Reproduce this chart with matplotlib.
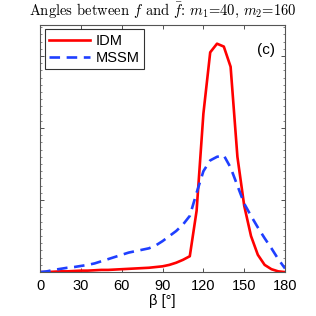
import numpy as np
import matplotlib
matplotlib.use("Agg")
import matplotlib.pyplot as plt
from matplotlib.ticker import MultipleLocator

# angle bins (degrees)
beta = list(range(0, 181, 5))

idm = [0.0, 0.0, 0.005, 0.01, 0.01, 0.015, 0.02, 0.02, 0.025, 0.03, 0.03, 0.035,
       0.04, 0.045, 0.05, 0.055, 0.06, 0.07, 0.08, 0.1, 0.13, 0.17, 0.22, 0.85,
       2.2, 3.05, 3.17, 3.13, 2.85, 1.6, 0.92, 0.5, 0.24, 0.1, 0.04, 0.01, 0.0]

mssm = [0.0, 0.01, 0.03, 0.045, 0.06, 0.07, 0.085, 0.1, 0.12, 0.15, 0.18, 0.21,
        0.24, 0.27, 0.29, 0.31, 0.33, 0.37, 0.43, 0.5, 0.57, 0.66, 0.78, 1.1,
        1.4, 1.55, 1.6, 1.62, 1.45, 1.2, 0.95, 0.78, 0.62, 0.47, 0.33, 0.18, 0.05]

xticks = [0, 30, 60, 90, 120, 150, 180]

plt.rcParams['font.family'] = ['Liberation Sans', 'DejaVu Sans']
plt.rcParams['mathtext.fontset'] = 'cm'

fig = plt.figure(figsize=(3.16, 3.16), dpi=100)
ax = fig.add_axes([0.127, 0.139, 0.775, 0.782])

ax.plot(beta, idm, color='#ff0000', lw=1.9, label='IDM')
ax.plot(beta, mssm, color='#1f3fff', lw=1.9, ls=(0, (4, 2.5)), label='MSSM')

ax.set_xlim(0, 180)
ax.set_ylim(0, 3.43)
ax.set_xticks(xticks)
ax.set_yticks([0, 1, 2, 3])
ax.yaxis.set_minor_locator(MultipleLocator(0.1))
ax.set_yticklabels([])
ax.tick_params(direction='in', top=True, right=True, length=3, width=0.6,
               labelsize=10.5, colors='#333333', labelcolor='black', pad=5)
ax.tick_params(which='minor', direction='in', left=True, right=True, length=1.5, width=0.5,
               colors='#555555')
for s in ax.spines.values():
    s.set_color('#555555')
    s.set_linewidth(0.8)

ax.set_xlabel('β [°]', fontsize=10.5, labelpad=1)
ax.set_title(r'Angles between $f$ and $\bar{f}$: $m_1$=40, $m_2$=160',
             fontsize=10.5, pad=7, fontfamily=['cmr10', 'DejaVu Serif'])

leg = ax.legend(loc='upper left', fontsize=10.5, fancybox=False, edgecolor='black',
                handlelength=2.8, borderpad=0.3, labelspacing=0.2, handletextpad=0.4,
                borderaxespad=0.3)
leg.get_frame().set_linewidth(0.8)

ax.text(0.96, 0.9, '(c)', transform=ax.transAxes, ha='right', va='center', fontsize=11)

fig.savefig('out.png', dpi=100)
